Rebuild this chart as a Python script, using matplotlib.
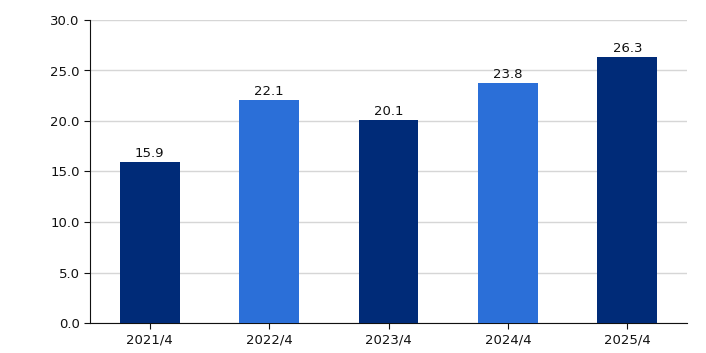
import numpy as np
import matplotlib.pyplot as plt

categories = ["2021/4", "2022/4", "2023/4", "2024/4", "2025/4"]
values = [15.9, 22.1, 20.1, 23.8, 26.3]
colors = ["#002B78", "#2B6FD8", "#002B78", "#2B6FD8", "#002B78"]

plt.rcParams['font.family'] = ['DejaVu Sans']

fig = plt.figure(figsize=(7.06, 3.53), dpi=100)
ax = fig.add_axes([90 / 706, 30 / 353, 597 / 706, 303 / 353])

x = np.arange(len(categories))
bars = ax.bar(x, values, width=0.5, color=colors, zorder=3)
for xi, v in zip(x, values):
    ax.text(xi, v + 0.2, f"{v:.1f}", ha="center", va="bottom", fontsize=9.5, color="#111111")

ax.set_xlim(-0.5, 4.5)
ax.set_ylim(0, 30)
ax.set_yticks(np.arange(0, 31, 5))
ax.set_yticklabels([f"{t:.1f}" for t in np.arange(0, 31, 5)])
ax.set_xticks(x)
ax.set_xticklabels(categories)
ax.tick_params(axis="both", labelsize=9.5, length=4, color="#111111", labelcolor="#111111")
ax.grid(axis="y", color="#d6d6d6", lw=1, zorder=0)
for s in ["top", "right"]:
    ax.spines[s].set_visible(False)
ax.spines["left"].set_color("#111111")
ax.spines["bottom"].set_color("#111111")

fig.savefig("out.png", dpi=100)
